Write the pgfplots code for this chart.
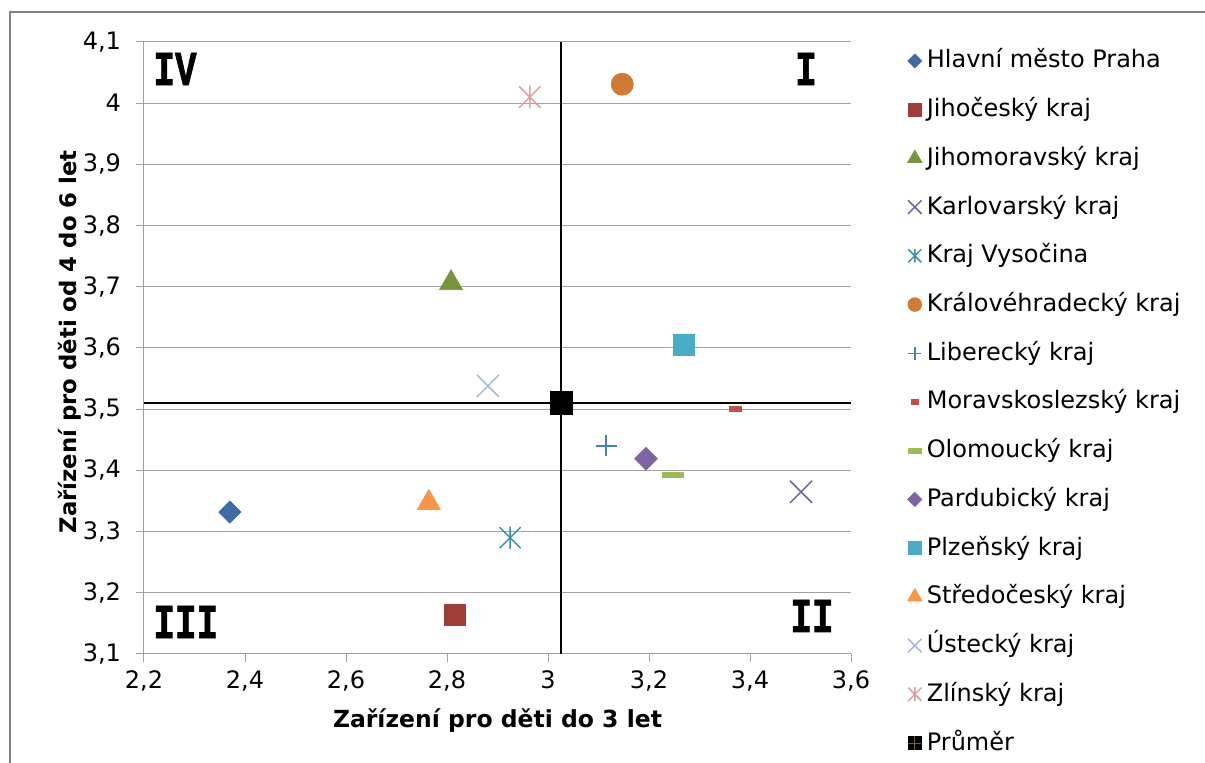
\documentclass[border=0pt]{standalone}
\usepackage{pgfplots}
\pgfplotsset{compat=1.18}
\usepackage{fontspec}
\setmainfont{DejaVu Sans}
\newfontfamily\quadfont{Liberation Mono}[BoldFeatures={FakeBold=1.5}]

% Excel style asterisk: an x with a vertical bar
\pgfdeclareplotmark{xstar}{%
  \pgfpathmoveto{\pgfqpoint{-.7071\pgfplotmarksize}{-.7071\pgfplotmarksize}}%
  \pgfpathlineto{\pgfqpoint{.7071\pgfplotmarksize}{.7071\pgfplotmarksize}}%
  \pgfpathmoveto{\pgfqpoint{-.7071\pgfplotmarksize}{.7071\pgfplotmarksize}}%
  \pgfpathlineto{\pgfqpoint{.7071\pgfplotmarksize}{-.7071\pgfplotmarksize}}%
  \pgfpathmoveto{\pgfqpoint{0pt}{-.75\pgfplotmarksize}}%
  \pgfpathlineto{\pgfqpoint{0pt}{.75\pgfplotmarksize}}%
  \pgfusepathqstroke}

\definecolor{cPraha}{HTML}{3F6AA3}
\definecolor{cJihoc}{HTML}{A03D3A}
\definecolor{cJihom}{HTML}{77933C}
\definecolor{cKarl}{HTML}{7060A0}
\definecolor{cVys}{HTML}{3B8FA4}
\definecolor{cKrh}{HTML}{D07B35}
\definecolor{cLib}{HTML}{4A7EBB}
\definecolor{cMsk}{HTML}{C0504D}
\definecolor{cOlo}{HTML}{9BBB59}
\definecolor{cPar}{HTML}{8064A2}
\definecolor{cPlz}{HTML}{4BACC6}
\definecolor{cStc}{HTML}{F79646}
\definecolor{cUst}{HTML}{A7B9DA}
\definecolor{cZlin}{HTML}{DBA0A0}
\definecolor{gridgray}{HTML}{A0A0A0}

\newcommand{\lbl}{\fontsize{12}{14}\selectfont}
\newcommand{\quadtext}[1]{\scalebox{1}[1.35]{\fontsize{18}{18}\selectfont\quadfont\bfseries #1}}

\begin{document}
\begin{tikzpicture}
\begin{axis}[
  scale only axis, width=353.5pt, height=306pt,
  xmin=2.2, xmax=3.6, ymin=3.1, ymax=4.1,
  xtick={2.2,2.4,...,3.6}, ytick={3.1,3.2,...,4.1},
  axis x line*=bottom, axis y line*=left,
  axis line style={gridgray, line width=0.5pt},
  tick style={gridgray, line width=0.5pt},
  major tick length=4pt, tick align=outside,
  ymajorgrids, grid style={gridgray, line width=0.5pt},
  /pgf/number format/.cd, use comma, fixed, assume math mode=true, /pgfplots/.cd,
  tick label style={font=\lbl, black},
  yticklabel style={xshift=-4pt},
  xticklabel style={yshift=-1pt},
  xlabel={Zařízení pro děti do 3 let},
  ylabel={Zařízení pro děti od 4 do 6 let},
  xlabel style={font=\fontsize{11.75}{14}\selectfont\bfseries,
    at={(axis description cs:0.5,-0.1095)}, anchor=center},
  ylabel style={font=\fontsize{11.4}{14}\selectfont\bfseries,
    at={(axis description cs:-0.1047,0.51)}, anchor=center},
  clip=false,
  legend cell align=left,
  legend style={at={(1.0750,0.9870)}, anchor=north west, draw=none, fill=none,
    inner sep=0pt, outer sep=0pt, font=\lbl, row sep=13.36pt,
    nodes={inner sep=0pt, text height=9pt, text depth=2pt},
    /tikz/every odd column/.append style={column sep=0.6pt}},
  legend image code/.code={%
    \path (0pt,0pt) (8pt,0pt);
    \draw[mark repeat=2, mark phase=2, #1, every mark/.append style={scale=0.62}]
      plot coordinates {(0pt,0pt)(4pt,0pt)(8pt,0pt)};},
  every axis plot/.append style={only marks},
]
% mean lines
\addplot[black, line width=1.1pt, no marks, sharp plot, forget plot] coordinates {(3.026,3.1)(3.026,4.1)};
\addplot[black, line width=1.1pt, no marks, sharp plot, forget plot] coordinates {(2.2,3.51)(3.6,3.51)};

\addplot[color=cPraha, mark=square*, mark size=3.9pt, mark options={rotate=45}] coordinates {(2.370,3.332)};
\addlegendentry{Hlavní město Praha}
\addplot[color=cJihoc, mark=square*, mark size=5.4pt] coordinates {(2.816,3.164)};
\addlegendentry{Jihočeský kraj}
\addplot[color=cJihom, mark=triangle*, mark size=6.6pt] coordinates {(2.808,3.706)};
\addlegendentry{Jihomoravský kraj}
\addplot[color=cKarl, mark=x, mark size=7.8pt, line width=0.75pt] coordinates {(3.501,3.365)};
\addlegendentry{Karlovarský kraj}
\addplot[color=cVys, mark=xstar, mark size=7.4pt, line width=0.75pt] coordinates {(2.925,3.290)};
\addlegendentry{Kraj Vysočina}
\addplot[color=cKrh, mark=*, mark size=5.5pt] coordinates {(3.147,4.031)};
\addlegendentry{Královéhradecký kraj}
\addplot[color=cLib, mark=+, mark size=5.25pt, line width=0.75pt] coordinates {(3.115,3.440)};
\addlegendentry{Liberecký kraj}
\addplot[color=cMsk, mark=-, mark size=3.2pt, line width=2.8pt] coordinates {(3.372,3.500)};
\addlegendentry{Moravskoslezský kraj}
\addplot[color=cOlo, mark=-, mark size=5.5pt, line width=2.8pt] coordinates {(3.248,3.392)};
\addlegendentry{Olomoucký kraj}
\addplot[color=cPar, mark=square*, mark size=4.0pt, mark options={rotate=45}] coordinates {(3.194,3.419)};
\addlegendentry{Pardubický kraj}
\addplot[color=cPlz, mark=square*, mark size=5.4pt] coordinates {(3.269,3.605)};
\addlegendentry{Plzeňský kraj}
\addplot[color=cStc, mark=triangle*, mark size=6.6pt] coordinates {(2.764,3.347)};
\addlegendentry{Středočeský kraj}
\addplot[color=cUst, mark=x, mark size=7.8pt, line width=0.75pt] coordinates {(2.881,3.538)};
\addlegendentry{Ústecký kraj}
\addplot[color=cZlin, mark=xstar, mark size=7.6pt, line width=0.75pt] coordinates {(2.964,4.010)};
\addlegendentry{Zlínský kraj}
\addplot[color=black, mark=square*, mark size=5.6pt,
  legend image code/.code={%
    \path (0pt,0pt) (8pt,0pt);
    \fill[black] (0.7pt,-3.3pt) rectangle (7.3pt,3.3pt);
    \draw[line width=0.4pt, color=olive!70!black] (4pt,-3.3pt)--(4pt,3.3pt) (0.7pt,0pt)--(7.3pt,0pt);}]
  coordinates {(3.026,3.510)};
\addlegendentry{Průměr}

% quadrant labels
\node[anchor=base west, inner sep=0pt] at (axis cs:2.2178,4.0297) {\quadtext{IV}};
\node[anchor=base, inner sep=0pt] at (axis cs:3.511,4.0297) {\quadtext{I}};
\node[anchor=base west, inner sep=0pt] at (axis cs:2.2178,3.1261) {\quadtext{III}};
\node[anchor=base, inner sep=0pt] at (axis cs:3.5228,3.136) {\quadtext{II}};
\end{axis}
% chart frame (left and top edges visible)
\draw[gray, line width=1pt] (-67pt,-54.5pt) -- (-67pt,321pt) -- (530.5pt,321pt);
\pgfresetboundingbox
\path[use as bounding box] (-72pt,-54.5pt) rectangle (530.5pt,327pt);
\end{tikzpicture}
\end{document}
